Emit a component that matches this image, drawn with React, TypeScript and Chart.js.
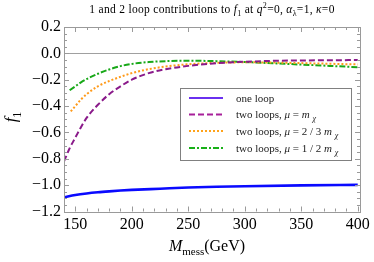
import React, { useEffect, useRef } from "react";
import { Chart, registerables } from "chart.js";

Chart.register(...registerables);

// ---- data ----
const massOneLoop = [140, 150, 160, 170, 180, 190, 200, 225, 250, 275, 300, 350, 400];
const fOneLoop = [-1.092, -1.075, -1.063, -1.054, -1.047, -1.041, -1.036, -1.027, -1.018, -1.012, -1.008, -1.002, -0.998];

const massMuM = [140, 145, 150, 155, 160, 170, 180, 190, 200, 215, 230, 250, 275, 300, 325, 350, 375, 400];
const fMuM = [-0.82, -0.72, -0.64, -0.56, -0.49, -0.39, -0.31, -0.25, -0.2, -0.15, -0.12, -0.095, -0.075, -0.064, -0.057, -0.054, -0.052, -0.051];

const massMu23 = [146, 150, 155, 160, 170, 180, 190, 200, 215, 230, 250, 275, 300, 325, 350, 375, 400];
const fMu23 = [-0.44, -0.4, -0.35, -0.31, -0.25, -0.21, -0.178, -0.15, -0.12, -0.1, -0.083, -0.072, -0.068, -0.07, -0.074, -0.079, -0.084];

const massMu12 = [145, 150, 155, 160, 170, 180, 190, 200, 215, 230, 250, 275, 300, 325, 350, 375, 400];
const fMu12 = [-0.28, -0.25, -0.22, -0.195, -0.155, -0.122, -0.097, -0.08, -0.066, -0.059, -0.056, -0.059, -0.066, -0.075, -0.085, -0.095, -0.105];

const xTickValues = [150, 200, 250, 300, 350, 400];
const yTickValues = [-1.2, -1.0, -0.8, -0.6, -0.4, -0.2, 0.0, 0.2];

const seriesLabels = ["one loop", "two loops, μ = m χ", "two loops, μ = 2 / 3 m χ", "two loops, μ = 1 / 2 m χ"];

const SERIF = "'Liberation Serif', 'DejaVu Serif', serif";

type Seg = { t: string; it?: boolean; sub?: boolean; sup?: boolean };

function drawRich(ctx: CanvasRenderingContext2D, segs: Seg[], x: number, y: number, align: "left" | "center", size: number, color = "#000", spacing = 0) {
  const fontFor = (s: Seg) => `${s.it ? "italic " : ""}${s.sub || s.sup ? Math.round(size * 0.7) : size}px ${SERIF}`;
  ctx.save();
  (ctx as any).letterSpacing = spacing + "px";
  let total = 0;
  const widths: number[] = [];
  for (const s of segs) {
    ctx.font = fontFor(s);
    const w = ctx.measureText(s.t).width;
    widths.push(w);
    total += w;
  }
  let cx = align === "center" ? x - total / 2 : x;
  ctx.fillStyle = color;
  ctx.textAlign = "left";
  ctx.textBaseline = "alphabetic";
  segs.forEach((s, i) => {
    ctx.font = fontFor(s);
    const dy = s.sub ? size * 0.28 : s.sup ? -size * 0.4 : 0;
    ctx.fillText(s.t, cx, y + dy);
    cx += widths[i];
  });
  ctx.restore();
}

const titleSegs: Seg[] = [
  { t: "1 and 2 loop contributions to " },
  { t: "f", it: true },
  { t: "1", sub: true },
  { t: " at " },
  { t: "q", it: true },
  { t: "2", sup: true },
  { t: "=0, " },
  { t: "α", it: true },
  { t: "λ", sub: true },
  { t: "=1, " },
  { t: "κ", it: true },
  { t: "=0" },
];

function legendSegs(label: string): Seg[] {
  if (label === "one loop") return [{ t: label }];
  const m = label.match(/^two loops, μ = (.*?)m χ$/);
  const factor = m ? m[1] : "";
  return [
    { t: "two loops, " },
    { t: "μ", it: true },
    { t: " = " + factor },
    { t: "m", it: true },
    { t: " " },
    { t: "χ", it: true, sub: true },
  ];
}

const COLORS = ["#0a0aff", "#8a1a8a", "#ff9a1a", "#18a818"];
const LEGEND_COLORS = ["#6a30f0", "#a8209a", "#ffa31a", "#18b018"];
const DASHES: number[][] = [[], [6, 3], [2, 2], [6, 2, 2, 2]];
const WIDTHS = [2.6, 2, 2, 2];

const decor = {
  id: "decor",
  beforeDatasetsDraw(chart: any) {
    const { ctx, chartArea, scales } = chart;
    const y0 = scales.y.getPixelForValue(0);
    ctx.save();
    ctx.strokeStyle = "#a0a0a0";
    ctx.lineWidth = 1;
    ctx.beginPath();
    ctx.moveTo(chartArea.left, Math.round(y0) + 0.5);
    ctx.lineTo(chartArea.right, Math.round(y0) + 0.5);
    ctx.stroke();
    ctx.restore();
  },
  afterDatasetsDraw(chart: any) {
    const { ctx, chartArea, scales } = chart;
    const { left, right, top, bottom } = chartArea;
    ctx.save();
    ctx.strokeStyle = "#9a9a9a";
    ctx.lineWidth = 1;
    ctx.strokeRect(Math.round(left) + 0.5, Math.round(top) + 0.5, Math.round(right - left), Math.round(bottom - top));
    ctx.beginPath();
    for (let v = 140; v <= 402; v += 10) {
      const px = Math.round(scales.x.getPixelForValue(v)) + 0.5;
      const len = v % 50 === 0 ? 5 : 3;
      ctx.moveTo(px, bottom);
      ctx.lineTo(px, bottom - len);
      ctx.moveTo(px, top);
      ctx.lineTo(px, top + len);
    }
    for (let i = -24; i <= 4; i++) {
      const v = i * 0.05;
      const py = Math.round(scales.y.getPixelForValue(v)) + 0.5;
      const len = i % 4 === 0 ? 5 : 3;
      ctx.moveTo(left, py);
      ctx.lineTo(left + len, py);
      ctx.moveTo(right, py);
      ctx.lineTo(right - len, py);
    }
    ctx.stroke();
    ctx.restore();

    // legend box
    const bx = 180.5, by = 88.5, bw = 171, bh = 72;
    ctx.save();
    ctx.fillStyle = "#ffffff";
    ctx.fillRect(bx, by, bw, bh);
    ctx.strokeStyle = "#808080";
    ctx.lineWidth = 1;
    ctx.strokeRect(bx, by, bw, bh);
    const rows = [98, 114.5, 131, 148];
    seriesLabels.forEach((lab, i) => {
      const yy = rows[i];
      ctx.save();
      ctx.strokeStyle = LEGEND_COLORS[i];
      ctx.lineWidth = 2;
      ctx.setLineDash(DASHES[i]);
      ctx.beginPath();
      ctx.moveTo(189, yy);
      ctx.lineTo(223, yy);
      ctx.stroke();
      ctx.restore();
      drawRich(ctx, legendSegs(lab), 236, yy + 3.5, "left", 11, "#222");
    });
    ctx.restore();
  },
  afterDraw(chart: any) {
    const { ctx } = chart;
    drawRich(ctx, titleSegs, 212, 13, "center", 11.5, "#000", 0.3);
    drawRich(ctx, [{ t: "M", it: true }, { t: "mess", sub: true }, { t: "(GeV)" }], 207, 251, "center", 16);
    ctx.save();
    ctx.translate(16, 117);
    ctx.rotate(-Math.PI / 2);
    drawRich(ctx, [{ t: "f", it: true }, { t: "1", sub: true }], 0, 0, "center", 17);
    ctx.restore();
  },
};

function fmtY(v: number) {
  const s = Math.abs(v).toFixed(1);
  return (v < -1e-9 ? "\u2212" : "") + s;
}

export default function App() {
  const ref = useRef<HTMLCanvasElement | null>(null);
  useEffect(() => {
    const canvas = ref.current;
    if (!canvas) return;
    const mk = (xs: number[], ys: number[]) => xs.map((x, i) => ({ x, y: ys[i] }));
    const datasets = [
      mk(massOneLoop, fOneLoop),
      mk(massMuM, fMuM),
      mk(massMu23, fMu23),
      mk(massMu12, fMu12),
    ].map((d, i) => ({
      label: seriesLabels[i],
      data: d,
      showLine: true,
      borderColor: COLORS[i],
      backgroundColor: COLORS[i],
      borderWidth: WIDTHS[i],
      borderDash: DASHES[i],
      pointRadius: 0,
      cubicInterpolationMode: "monotone" as const,
      fill: false,
    }));
    const chart = new Chart(canvas, {
      type: "scatter",
      data: { datasets },
      options: {
        animation: false,
        responsive: false,
        devicePixelRatio: 1,
        layout: { padding: { top: 27, right: 14, left: 0, bottom: 0 } },
        plugins: { legend: { display: false }, title: { display: false }, tooltip: { enabled: false } },
        scales: {
          x: {
            type: "linear",
            min: 140,
            max: 402,
            grid: { display: false, drawTicks: false, tickLength: 0 },
            border: { display: false },
            afterBuildTicks: (s: any) => {
              s.ticks = xTickValues.map((v) => ({ value: v }));
            },
            afterFit: (s: any) => {
              s.height = 50.5;
            },
            ticks: {
              color: "#000",
              padding: 4,
              maxRotation: 0,
              autoSkip: false,
              font: { family: SERIF, size: 16 },
              callback: (v: any) => String(v),
            },
          },
          y: {
            type: "linear",
            min: -1.2,
            max: 0.2,
            grid: { display: false, drawTicks: false, tickLength: 0 },
            border: { display: false },
            afterBuildTicks: (s: any) => {
              s.ticks = yTickValues.map((v) => ({ value: v }));
            },
            afterFit: (s: any) => {
              s.width = 64;
            },
            ticks: {
              color: "#000",
              padding: 3,
              autoSkip: false,
              font: { family: SERIF, size: 16 },
              callback: (v: any) => fmtY(Number(v)),
            },
          },
        },
      },
      plugins: [decor],
    });
    return () => chart.destroy();
  }, []);
  return (
    <div style={{ position: "absolute", left: 0, top: 0, width: 374, height: 262, background: "#fff" }}>
      <canvas ref={ref} width={374} height={262} style={{ display: "block" }} />
    </div>
  );
}
